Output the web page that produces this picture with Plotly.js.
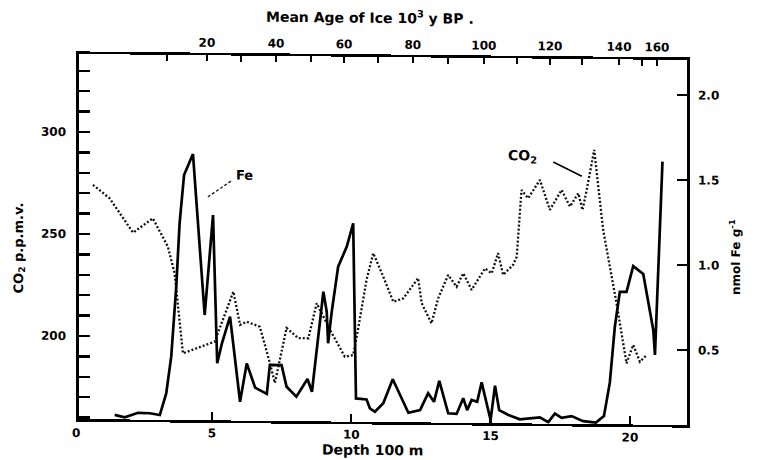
<!DOCTYPE html>
<html>
<head>
<meta charset="utf-8">
<script src="https://cdn.plot.ly/plotly-3.0.1.min.js"></script>
<style>
  html, body { margin: 0; padding: 0; background: #fff; overflow: hidden; }
  /* the printed figure leans slightly: its frame drops toward the right */
  #chart { width: 758px; height: 460px; transform: skewY(0.57deg); transform-origin: 79px 0; }
</style>
</head>
<body>
<div id="chart"></div>
<script>
// CO2 record (ppmv) against depth (100 m units)
const co2Depth = [0.73, 1.33, 2.17, 2.88, 3.42, 3.66, 3.96, 5.10, 5.77, 6.01, 6.25, 6.72, 7.08, 7.26,
  7.68, 8.10, 8.46, 8.76, 9.24, 9.77, 10.07, 10.24, 10.55, 10.79, 11.15, 11.51, 11.87, 12.17, 12.40,
  12.53, 12.88, 13.12, 13.48, 13.78, 14.02, 14.32, 14.80, 15.04, 15.27, 15.45, 15.81, 15.94, 16.11,
  16.35, 16.77, 17.13, 17.55, 17.85, 18.15, 18.30, 18.45, 18.72, 19.04, 19.52, 19.88, 20.12, 20.36, 20.60];
const co2Value = [274.1, 267.6, 250.9, 258.0, 244.2, 231.3, 192.0, 197.9, 222.5, 206.2, 207.8, 205.4, 187.7, 177.9,
  204.9, 200.0, 200.0, 217.2, 204.2, 191.1, 192.0, 204.3, 228.9, 242.0, 230.5, 218.3, 220.0, 225.8, 230.0,
  217.7, 207.9, 220.2, 231.7, 226.0, 232.6, 224.5, 235.1, 232.7, 242.6, 232.0, 237.0, 241.0, 273.7,
  269.7, 278.7, 264.1, 273.9, 265.8, 272.4, 264.2, 274.0, 293.7, 254.6, 218.7, 189.3, 198.3, 190.1, 193.4];

// Fe concentration (nmol Fe per g) against depth (100 m units)
const feDepth = [1.51, 1.87, 2.35, 2.77, 3.13, 3.36, 3.54, 3.72, 3.84, 4.00, 4.32, 4.74, 5.04, 5.19, 5.36,
  5.65, 6.01, 6.25, 6.55, 6.97, 7.08, 7.50, 7.68, 8.03, 8.43, 8.59, 9.00, 9.12, 9.17, 9.30, 9.53, 9.84,
  10.07, 10.17, 10.55, 10.67, 10.85, 11.15, 11.49, 12.05, 12.47, 12.76, 12.97, 13.16, 13.48, 13.78,
  14.02, 14.16, 14.32, 14.52, 14.68, 14.86, 15.00, 15.16, 15.31, 15.64, 16.05, 16.77, 17.07, 17.31,
  17.55, 17.91, 18.32, 18.78, 19.07, 19.28, 19.46, 19.64, 19.88, 20.12, 20.48, 20.84, 20.90, 21.17];
const feValue = [0.085, 0.072, 0.099, 0.097, 0.087, 0.215, 0.431, 0.843, 1.216, 1.500, 1.624, 0.678, 1.266, 0.395, 0.513,
  0.670, 0.170, 0.396, 0.254, 0.218, 0.388, 0.388, 0.261, 0.203, 0.308, 0.233, 0.822, 0.705, 0.519, 0.705, 0.970, 1.089,
  1.226, 0.196, 0.191, 0.139, 0.119, 0.169, 0.311, 0.115, 0.132, 0.231, 0.181, 0.304, 0.114, 0.111,
  0.204, 0.134, 0.194, 0.184, 0.298, 0.165, 0.077, 0.279, 0.136, 0.108, 0.083, 0.096, 0.068, 0.119,
  0.094, 0.105, 0.076, 0.068, 0.107, 0.304, 0.633, 0.839, 0.839, 0.991, 0.945, 0.616, 0.469, 1.607];

// Bottom axis ticks (depth, 100 m)
const depthTicks = [5, 10, 15, 20];
// Top axis: mean age of ice (10^3 y BP), labelled every 20 and ticked every 10,
// each placed at the depth where that age falls
const ageLabelDepth = [4.82, 7.30, 9.74, 12.21, 14.76, 17.13, 19.61, 20.97];
const ageLabelText = ['20', '40', '60', '80', '100', '120', '140', '160'];
const ageMinorDepth = [3.39, 6.04, 8.55, 10.95, 13.47, 15.95, 18.28, 20.43];
// Left axis: CO2 labels every 50 ppmv, ticks every 10
const co2Ticks = [200, 250, 300];
const co2MinorTicks = [160, 170, 180, 190, 210, 220, 230, 240, 260, 270, 280, 290, 310, 320, 330];
// Right axis: Fe ticks
const feTicks = [0.5, 1.0, 1.5, 2.0];
const feTickText = ['0.5', '1.0', '1.5', '2.0'];

const depthRange = [0.23, 22.05];
const FONT = 'DejaVu Sans, Liberation Sans, Arial, sans-serif';
const tickFont = { family: FONT, size: 12, color: '#000', weight: 700 };

const traces = [
  {
    x: co2Depth, y: co2Value, xaxis: 'x', yaxis: 'y', type: 'scatter', mode: 'lines',
    line: { color: '#111', width: 2.3, dash: '2px,2px' }, hoverinfo: 'skip'
  },
  {
    x: feDepth, y: feValue, xaxis: 'x2', yaxis: 'y2', type: 'scatter', mode: 'lines',
    line: { color: '#000', width: 2.7 }, hoverinfo: 'skip'
  }
];

const axisBase = {
  showline: true, linecolor: '#000', linewidth: 2.6, showgrid: false, zeroline: false,
  ticks: 'inside', tickcolor: '#000', tickwidth: 2.4, tickfont: tickFont, tickmode: 'array'
};

const layout = {
  width: 758, height: 460,
  margin: { l: 79, r: 71, t: 54, b: 41, pad: 0 },
  paper_bgcolor: '#fff', plot_bgcolor: '#fff',
  showlegend: false,
  xaxis: Object.assign({}, axisBase, {
    range: depthRange, tickvals: depthTicks, ticktext: depthTicks.map(String), ticklen: 8,
    ticklabelstandoff: 0
  }),
  xaxis2: Object.assign({}, axisBase, {
    overlaying: 'x', side: 'top', range: depthRange,
    tickvals: ageLabelDepth, ticktext: ageLabelText, ticklen: 6, ticklabelstandoff: 1,
    minor: { tickmode: 'array', tickvals: ageMinorDepth, ticks: 'inside', ticklen: 6,
             tickwidth: 2.4, tickcolor: '#000', showgrid: false }
  }),
  yaxis: Object.assign({}, axisBase, {
    range: [159.3, 338.2], tickvals: co2Ticks, ticktext: co2Ticks.map(String), ticklen: 11,
    ticklabelstandoff: 8,
    minor: { tickmode: 'array', tickvals: co2MinorTicks, ticks: 'inside', ticklen: 11,
             tickwidth: 2.4, tickcolor: '#000', showgrid: false }
  }),
  yaxis2: Object.assign({}, axisBase, {
    overlaying: 'y', side: 'right', range: [0.059, 2.206],
    tickvals: feTicks, ticktext: feTickText, ticklen: 10, ticklabelstandoff: 6
  }),
  annotations: [
    { text: 'Mean Age of Ice 10<sup>3</sup> y BP .', xref: 'paper', yref: 'paper', x: 0.479, y: 1.110,
      xanchor: 'center', yanchor: 'middle',
      showarrow: false, font: { family: FONT, size: 14, color: '#000', weight: 700 } },
    { text: 'Depth 100 m', xref: 'paper', yref: 'paper', x: 0.482, y: -0.077,
      xanchor: 'center', yanchor: 'middle',
      showarrow: false, font: { family: FONT, size: 14, color: '#000', weight: 700 } },
    { text: 'CO<sub>2</sub> p.p.m.v.', xref: 'paper', yref: 'paper', x: -0.099, y: 0.468, textangle: -90,
      xanchor: 'center', yanchor: 'middle',
      showarrow: false, font: { family: FONT, size: 13, color: '#000', weight: 700 } },
    { text: 'nmol Fe g<sup>-1</sup>', xref: 'paper', yref: 'paper', x: 1.079, y: 0.462, textangle: -90,
      xanchor: 'center', yanchor: 'middle',
      showarrow: false, font: { family: FONT, size: 12, color: '#000', weight: 700 } },
    { text: '0', xref: 'paper', yref: 'paper', x: -0.005, y: -0.037,
      xanchor: 'center', yanchor: 'middle', showarrow: false, font: tickFont },
    { text: 'Fe', xref: 'paper', yref: 'paper', x: 0.272, y: 0.673,
      xanchor: 'center', yanchor: 'middle',
      showarrow: false, font: { family: FONT, size: 13, color: '#000', weight: 700 } },
    { text: 'CO<sub>2</sub>', xref: 'paper', yref: 'paper', x: 0.730, y: 0.7326,
      xanchor: 'center', yanchor: 'middle',
      showarrow: false, font: { family: FONT, size: 14, color: '#000', weight: 700 } }
  ],
  shapes: [
    { type: 'line', xref: 'paper', yref: 'paper', x0: 0.212, y0: 0.612, x1: 0.250, y1: 0.656,
      line: { color: '#222', width: 1.4, dash: '3px,2px' } },
    { type: 'line', xref: 'paper', yref: 'paper', x0: 0.780, y0: 0.717, x1: 0.827, y1: 0.679,
      line: { color: '#000', width: 1.6 } }
  ]
};

Plotly.newPlot('chart', traces, layout, { staticPlot: true, displayModeBar: false });
</script>
</body>
</html>
